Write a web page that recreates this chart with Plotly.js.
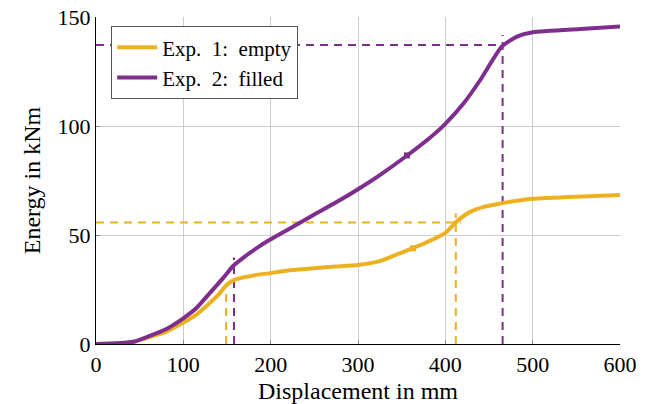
<!DOCTYPE html>
<html><head><meta charset="utf-8">
<script src="https://cdn.plot.ly/plotly-3.0.1.min.js"></script>
<style>body{margin:0;background:#fff}#c{width:649px;height:404px}</style>
</head><body><div id="c"></div>
<script>
const xEmpty = [0,25,43,60,80,100,115,130,140,150,160,184,199,222,250,275,300,325,352,375,400,413,428,445,465,480,500,550,600];
const yEmpty = [0,0.2,1,3,5.5,9.8,13.5,18.7,22.5,27.3,29.6,31.7,32.5,33.8,34.8,35.5,36.2,38,42.3,46,51,56.2,60.5,63,64.6,65.6,66.6,67.6,68.3];
const xFilled = [0,25,43,60,80,100,115,130,145,157,170,184,199,222,249,275,300,325,352,382,400,421,440,464.5,482,500,555,600];
const yFilled = [0,0.3,1,3.5,6.8,11.8,16.5,23.2,30,35.8,40,44,47.8,53,59.2,65,71,77.5,85.2,94.5,101,110.4,121.1,136.4,141,143,144.5,145.6];
const emptyVX1 = [149,149], emptyVY1 = [0,28];
const emptyVX2 = [412,412], emptyVY2 = [0,60];
const emptyHX = [0,418], emptyHY = [55.7,55.7];
const filledVX1 = [158,158], filledVY1 = [0,39.7];
const filledVX2 = [465.6,465.6], filledVY2 = [0,141.7];
const filledHX = [0,465.6], filledHY = [137.2,137.2];
const markX = [356,363], markY = [86.5,43.9];
const xTicks = [0,100,200,300,400,500,600];
const yTicks = [0,50,100,150];

const cE = '#EDB120', cF = '#7E2F8E';
const dashLine = (x,y,c)=>({x:x,y:y,mode:'lines',line:{color:c,width:2,dash:'8px,6px'},showlegend:false,hoverinfo:'skip'});
const data = [
  dashLine(emptyVX1,emptyVY1,cE), dashLine(emptyVX2,emptyVY2,cE), dashLine(emptyHX,emptyHY,cE),
  dashLine(filledVX1,filledVY1,cF), dashLine(filledVX2,filledVY2,cF), dashLine(filledHX,filledHY,cF),
  {x:xEmpty,y:yEmpty,mode:'lines',name:'Exp.\u00a0 1:\u00a0 empty',line:{color:cE,width:4,shape:'spline',smoothing:0.5}},
  {x:xFilled,y:yFilled,mode:'lines',name:'Exp.\u00a0 2:\u00a0 filled',line:{color:cF,width:4,shape:'spline',smoothing:0.5}},
  {x:[markX[0]],y:[markY[0]],mode:'markers',marker:{symbol:'square',size:6,color:cF},showlegend:false},
  {x:[markX[1]],y:[markY[1]],mode:'markers',marker:{symbol:'square',size:6,color:cE},showlegend:false}
];
const fam = 'Liberation Serif, serif';
const layout = {
  width:649, height:404,
  margin:{l:96,r:29,t:17,b:60},
  paper_bgcolor:'#fff', plot_bgcolor:'#fff',
  font: {family:fam, size:21, color:'#000'},
  showlegend:true,
  legend:{x:0.029,y:0.972,xanchor:'left',yanchor:'top',bgcolor:'#fff',bordercolor:'#555',borderwidth:1,font:{family:fam,size:21,color:'#000'},itemwidth:40,tracegroupgap:0},
  xaxis:{range:[0,600],tickvals:xTicks,ticktext:xTicks.map(String),showgrid:true,gridcolor:'#cccccc',gridwidth:1,
    showline:true,linecolor:'#000',linewidth:1.2,zeroline:false,ticks:'inside',ticklen:4,tickcolor:'#888',
    title:{text:'Displacement in mm',font:{family:fam,size:24,color:'#000'},standoff:6},tickfont:{family:fam,size:22,color:'#000'}},
  yaxis:{range:[0,150],tickvals:yTicks,ticktext:yTicks.map(String),showgrid:true,gridcolor:'#cccccc',gridwidth:1,
    showline:true,linecolor:'#000',linewidth:1.2,zeroline:false,ticks:'inside',ticklen:4,tickcolor:'#888',
    title:{text:'Energy in kNm',font:{family:fam,size:24,color:'#000'},standoff:10},tickfont:{family:fam,size:22,color:'#000'}}
};
Plotly.newPlot('c',data,layout,{staticPlot:true});
</script></body></html>
